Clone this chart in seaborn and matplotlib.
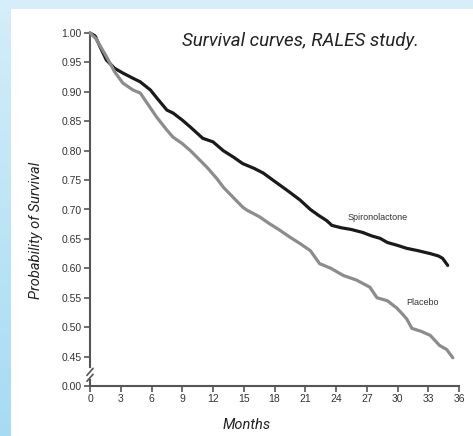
import numpy as np
import pandas as pd
import matplotlib
matplotlib.use("Agg")
import matplotlib.pyplot as plt
from matplotlib.lines import Line2D
import seaborn as sns

# ---- data ----
spiro_months = [0, 0.5, 1.0, 1.6, 2.4, 3.2, 4.2, 4.9, 5.9, 6.5, 7.5, 8.1, 9.0, 9.8, 11.0,
                12.0, 13.0, 14.0, 14.9, 16.0, 16.9, 18.0, 19.2, 20.5, 21.5, 22.3, 23.1,
                23.6, 24.5, 25.5, 26.6, 27.5, 28.3, 29.0, 30.0, 30.9, 32.0, 33.2, 34.0,
                34.4, 34.9]
spiro_surv = [1.000, 0.995, 0.976, 0.954, 0.940, 0.932, 0.923, 0.917, 0.903, 0.890, 0.869,
              0.864, 0.852, 0.840, 0.821, 0.815, 0.800, 0.789, 0.778, 0.770, 0.762, 0.748,
              0.733, 0.716, 0.700, 0.690, 0.681, 0.673, 0.669, 0.666, 0.661, 0.655, 0.651,
              0.644, 0.639, 0.634, 0.630, 0.625, 0.621, 0.617, 0.605]

placebo_months = [0, 0.6, 1.0, 1.6, 2.4, 3.2, 4.2, 4.9, 5.8, 6.5, 7.5, 8.1, 9.0, 9.8, 11.4,
                  12.4, 13.0, 14.0, 14.9, 15.3, 16.5, 17.5, 18.5, 19.5, 20.5, 21.5, 22.4,
                  23.5, 24.7, 26.0, 27.3, 28.0, 29.0, 29.9, 30.5, 30.9, 31.4, 32.3, 33.2,
                  34.1, 34.8, 35.4]
placebo_surv = [1.000, 0.990, 0.978, 0.960, 0.934, 0.915, 0.903, 0.898, 0.875, 0.857,
                0.835, 0.823, 0.812, 0.800, 0.772, 0.752, 0.738, 0.720, 0.704, 0.699,
                0.688, 0.676, 0.665, 0.653, 0.642, 0.630, 0.608, 0.600, 0.588, 0.580,
                0.568, 0.550, 0.545, 0.533, 0.522, 0.514, 0.498, 0.493, 0.486, 0.469,
                0.462, 0.448]

y_ticks = [0.40, 0.45, 0.50, 0.55, 0.60, 0.65, 0.70, 0.75, 0.80, 0.85, 0.90, 0.95, 1.00]
y_labels = ["0.00", "0.45", "0.50", "0.55", "0.60", "0.65", "0.70", "0.75", "0.80",
            "0.85", "0.90", "0.95", "1.00"]
x_ticks = list(range(0, 37, 3))

df = pd.concat([
    pd.DataFrame({"Months": spiro_months, "Survival": spiro_surv, "Group": "Spironolactone"}),
    pd.DataFrame({"Months": placebo_months, "Survival": placebo_surv, "Group": "Placebo"}),
], ignore_index=True)

sns.set_theme(style="ticks")
plt.rcParams["font.family"] = ["Liberation Sans", "DejaVu Sans"]
narrow = ["Roboto", "Liberation Sans", "DejaVu Sans"]

fig = plt.figure(figsize=(4.73, 4.36), dpi=100)
fig.patch.set_facecolor("#d6eef9")

# white panel + left blue strip (background axes)
ax_panel = fig.add_axes([10 / 473, 0, 1 - 10 / 473, 1 - 9 / 436], zorder=-10)
ax_panel.set_facecolor("white")
ax_panel.set_xticks([])
ax_panel.set_yticks([])
for s in ax_panel.spines.values():
    s.set_visible(False)

strip = np.linspace(0, 1, 100).reshape(-1, 1)
ax_bg = fig.add_axes([0, 0, 10 / 473, 1 - 9 / 436], zorder=-10)
ax_bg.imshow(strip, aspect="auto", origin="lower",
             cmap=matplotlib.colors.LinearSegmentedColormap.from_list("s", ["#a6dcf3", "#d3edf9"]))
ax_bg.set_axis_off()

ax = fig.add_axes([90 / 473, 1 - 386 / 436, (459 - 90) / 473, (386 - 33) / 436])
ax.set_facecolor("none")

sns.lineplot(data=df, x="Months", y="Survival", hue="Group",
             palette={"Spironolactone": "#1a1a1a", "Placebo": "#8c8c8c"},
             linewidth=2.3, legend=False, ax=ax, clip_on=False, zorder=3)

ax.set_xlim(0, 36)
ax.set_ylim(0.40, 1.00)
ax.set_xticks(x_ticks)
ax.set_yticks(y_ticks)
ax.set_yticklabels(y_labels)
ax.tick_params(axis="both", labelsize=7.5, colors="#555555", labelcolor="#333333",
               length=4, width=1.2, pad=2)
for s in ["top", "right"]:
    ax.spines[s].set_visible(False)
for s in ["left", "bottom"]:
    ax.spines[s].set_color("#555555")
    ax.spines[s].set_linewidth(1.5)
ax.set_xlabel("")
ax.set_ylabel("")

# axis break marks
ax.add_line(Line2D([0, 0], [0.415, 0.428], color="white", linewidth=3,
                   transform=ax.transData, clip_on=False, zorder=4))
for yy in (0.414, 0.424):
    ax.add_line(Line2D([-0.3, 0.3], [yy - 0.006, yy + 0.006], color="#555555", linewidth=1.2,
                       transform=ax.transData, clip_on=False, zorder=5))

ax.text(28.1, 0.687, "Spironolactone", fontsize=6.5, color="#333333", ha="center", va="center")
ax.text(32.4, 0.542, "Placebo", fontsize=6.5, color="#333333", ha="center", va="center")

fig.text(300 / 473, 1 - 41 / 436, "Survival curves, RALES study.", family=narrow,
         style="italic", fontsize=13.5, color="#222222", ha="center", va="center")
fig.text(36 / 473, 1 - 230 / 436, "Probability of Survival", family=narrow,
         style="italic", fontsize=10.5, color="#222222", ha="center", va="center", rotation=90)
fig.text(247 / 473, 1 - 425 / 436, "Months", family=narrow,
         style="italic", fontsize=10.5, color="#222222", ha="center", va="center")

fig.savefig("out.png", dpi=100, facecolor=fig.get_facecolor())
